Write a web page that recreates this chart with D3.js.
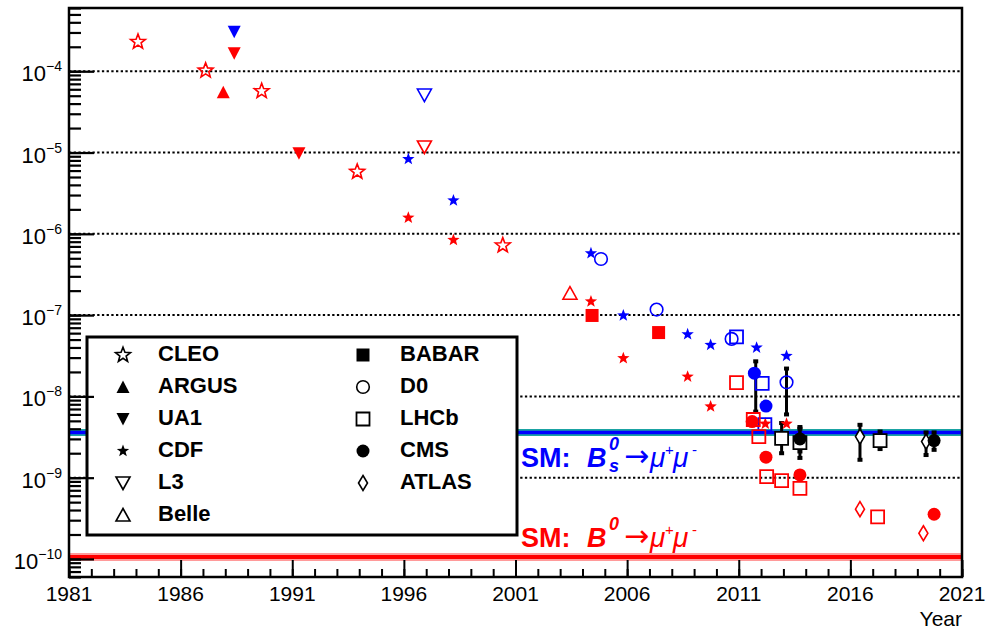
<!DOCTYPE html>
<html>
<head>
<meta charset="utf-8">
<script src="https://cdn.jsdelivr.net/npm/d3@7"></script>
<style>
  html, body { margin: 0; padding: 0; background: #fff; }
  svg { display: block; font-family: "Liberation Sans", Arial, Helvetica, sans-serif; }
</style>
</head>
<body>
<svg id="chart" width="989" height="629"></svg>
<script>
// ---- data: [year, branching fraction (or 90/95% CL limit), channel] ----
// channel: "B0" -> B0 -> mu mu (red), "Bs" -> Bs -> mu mu (blue)
const CLEO  = [[1984.09, 2.3e-4, "B0"], [1987.12, 1.02e-4, "B0"], [1989.63, 5.7e-5, "B0"],
               [1993.91, 5.8e-6, "B0"], [2000.43, 7.2e-7, "B0"]];
const ARGUS = [[1987.91, 5.5e-5, "B0"]];
const UA1   = [[1988.40, 3.07e-4, "Bs"], [1988.40, 1.66e-4, "B0"], [1991.30, 9.8e-6, "B0"]];
const CDF   = [[1996.20, 8.3e-6, "Bs"], [1996.20, 1.58e-6, "B0"], [1998.22, 2.57e-6, "Bs"],
               [1998.22, 8.4e-7, "B0"], [2004.38, 5.75e-7, "Bs"], [2004.38, 1.47e-7, "B0"],
               [2005.83, 9.9e-8, "Bs"], [2005.83, 2.95e-8, "B0"], [2008.71, 5.8e-8, "Bs"],
               [2008.71, 1.75e-8, "B0"], [2009.74, 4.3e-8, "Bs"], [2009.74, 7.5e-9, "B0"],
               [2011.80, 3.98e-8, "Bs"], [2012.19, 4.6e-9, "B0"], [2013.14, 3.15e-8, "Bs"],
               [2013.14, 4.6e-9, "B0"]];
const L3    = [[1996.92, 5.1e-5, "Bs"], [1996.92, 1.17e-5, "B0"]];
const Belle = [[2003.44, 1.86e-7, "B0"]];
const BABAR = [[2004.43, 9.9e-8, "B0"], [2007.41, 6.1e-8, "B0"]];
const D0    = [[2004.83, 4.9e-7, "Bs"], [2007.32, 1.17e-7, "Bs"], [2010.68, 5.1e-8, "Bs"],
               [2013.14, 1.49e-8, "Bs"]];
const LHCb  = [[2010.90, 5.4e-8, "Bs"], [2010.90, 1.48e-8, "B0"], [2012.05, 1.45e-8, "Bs"],
               [2012.17, 4.5e-9, "Bs"], [2011.65, 5.2e-9, "B0"], [2011.90, 3.2e-9, "B0"],
               [2012.25, 1.03e-9, "B0"], [2012.92, 9.2e-10, "B0"], [2013.74, 7.4e-10, "B0"],
               [2017.22, 3.3e-10, "B0"]];
const CMS   = [[2011.60, 4.9e-9, "B0"], [2011.70, 1.93e-8, "Bs"], [2012.22, 7.6e-9, "Bs"],
               [2012.22, 1.79e-9, "B0"], [2013.74, 1.08e-9, "B0"], [2019.75, 3.55e-10, "B0"]];
const ATLAS = [[2016.43, 4.1e-10, "B0"], [2019.27, 2.07e-10, "B0"]];

// Bs -> mu mu measurements with uncertainties: [experiment, year, value, low, high]
const measurements = [
  ["CDF",   2011.76, 1.8e-8,  6.5e-9, 2.7e-8],
  ["CDF",   2013.14, 1.3e-8,  6.0e-9, 2.2e-8],
  ["LHCb",  2012.92, 3.05e-9, 2.0e-9, 4.7e-9],
  ["LHCb",  2013.74, 2.7e-9,  1.75e-9, 4.0e-9],
  ["CMS",   2013.74, 3.0e-9,  2.1e-9, 4.2e-9],
  ["ATLAS", 2016.43, 3.2e-9,  1.66e-9, 4.47e-9],
  ["LHCb",  2017.33, 2.86e-9, 2.25e-9, 3.7e-9],
  ["ATLAS", 2019.39, 2.78e-9, 1.9e-9, 3.6e-9],
  ["CMS",   2019.75, 2.86e-9, 2.2e-9, 3.6e-9]
];

// Standard Model predictions
const smBs = 3.6e-9;
const smB0 = 1.06e-10;

const legendLeft  = ["CLEO", "ARGUS", "UA1", "CDF", "L3", "Belle"];
const legendRight = ["BABAR", "D0", "LHCb", "CMS", "ATLAS"];

const xMajorTicks = d3.range(1981, 2022, 5);
const xMinorTicks = d3.range(1981, 2022, 1);
const yDecades = [1e-10, 1e-9, 1e-8, 1e-7, 1e-6, 1e-5, 1e-4];
const yExponents = ["−10", "−9", "−8", "−7", "−6", "−5", "−4"];

// ---- layout ----
const svg = d3.select("#chart");
const L = 69, R = 962, T = 8, B = 577;
const x = d3.scaleLinear().domain([1981, 2021]).range([L, R]);
const y = d3.scaleLog().domain([6e-11, 6e-4]).range([B, T]);
const chColor = { B0: "#ff0000", Bs: "#0000ff", meas: "#000000" };

// marker shapes (ROOT-like), centred on (0,0)
function starPath(ro, ri) {
  const p = [];
  for (let i = 0; i < 10; i++) {
    const r = i % 2 ? ri : ro, a = -Math.PI / 2 + i * Math.PI / 5;
    p.push([r * Math.cos(a), r * Math.sin(a)]);
  }
  return "M" + p.map(d => d.join(",")).join("L") + "Z";
}
const shapes = {
  CLEO:  { d: starPath(7.8, 3.3), fill: false, sw: 1.6 },
  ARGUS: { d: "M0,-6.5L6.5,6L-6.5,6Z", fill: true },
  UA1:   { d: "M0,6.5L6.5,-6L-6.5,-6Z", fill: true },
  CDF:   { d: starPath(6.5, 2.7), fill: true },
  L3:    { d: "M0,6.5L7,-6L-7,-6Z", fill: false, sw: 1.6 },
  Belle: { d: "M0,-6.5L7,6L-7,6Z", fill: false, sw: 1.6 },
  BABAR: { d: "M-6.5,-6.5H6.5V6.5H-6.5Z", fill: true },
  D0:    { d: d3.symbol(d3.symbolCircle, Math.PI * 6.3 * 6.3)(), fill: false, sw: 1.6 },
  LHCb:  { d: "M-6.5,-6.5H6.5V6.5H-6.5Z", fill: false, sw: 1.8 },
  CMS:   { d: d3.symbol(d3.symbolCircle, Math.PI * 6.5 * 6.5)(), fill: true },
  ATLAS: { d: "M0,-7.5L4.5,0L0,7.5L-4.5,0Z", fill: false, sw: 1.6 }
};
function drawMarker(g, name, cx, cy, color, whiteFill) {
  const s = shapes[name];
  g.append("path").attr("d", s.d)
    .attr("transform", `translate(${cx},${cy})`)
    .attr("fill", s.fill ? color : (whiteFill ? "#fff" : "none"))
    .attr("stroke", s.fill ? "none" : color)
    .attr("stroke-width", s.sw || 0);
}

// ---- grid lines at each decade ----
svg.append("g").selectAll("line").data(yDecades).join("line")
  .attr("x1", L).attr("x2", R)
  .attr("y1", d => y(d)).attr("y2", d => y(d))
  .attr("stroke", "#000").attr("stroke-width", 2)
  .attr("stroke-dasharray", "2.3,2.4");

// ---- SM bands ----
svg.append("line").attr("x1", L).attr("x2", R).attr("y1", y(smBs)).attr("y2", y(smBs))
  .attr("stroke", "#1aa3a3").attr("stroke-width", 7);
svg.append("line").attr("x1", L).attr("x2", R).attr("y1", y(smBs)).attr("y2", y(smBs))
  .attr("stroke", "#0000ff").attr("stroke-width", 3.5);
svg.append("line").attr("x1", L).attr("x2", R).attr("y1", y(smB0)).attr("y2", y(smB0))
  .attr("stroke", "#ff9a9a").attr("stroke-width", 8);
svg.append("line").attr("x1", L).attr("x2", R).attr("y1", y(smB0)).attr("y2", y(smB0))
  .attr("stroke", "#ff0000").attr("stroke-width", 4);

// ---- SM labels ----
function smLabel(color, baseY, sub) {
  const g = svg.append("g").attr("fill", color);
  g.append("text").attr("x", 521).attr("y", baseY).attr("font-size", 27)
    .attr("font-weight", "bold").text("SM:");
  g.append("text").attr("x", 587).attr("y", baseY).attr("font-size", 27)
    .attr("font-weight", "bold").attr("font-style", "italic").text("B");
  g.append("text").attr("x", 609).attr("y", baseY - 17).attr("font-size", 18)
    .attr("font-weight", "bold").attr("font-style", "italic").text("0");
  if (sub) g.append("text").attr("x", 609).attr("y", baseY + 5).attr("font-size", 18)
    .attr("font-weight", "bold").attr("font-style", "italic").text(sub);
  g.append("text").attr("x", 624).attr("y", baseY - 1).attr("font-size", 30)
    .attr("font-family", "DejaVu Sans").text("→");
  g.append("text").attr("x", 650).attr("y", baseY).attr("font-size", 28)
    .attr("font-style", "italic").text("μ");
  g.append("text").attr("x", 665).attr("y", baseY - 12).attr("font-size", 15).text("+");
  g.append("text").attr("x", 673).attr("y", baseY).attr("font-size", 28)
    .attr("font-style", "italic").text("μ");
  g.append("text").attr("x", 692).attr("y", baseY - 12).attr("font-size", 15).text("-");
}
smLabel("#0000ff", 467, "s");
smLabel("#ff0000", 547, null);

// ---- error bars of measurements ----
const eg = svg.append("g");
measurements.forEach(([exp, yr, v, lo, hi]) => {
  const cx = x(yr);
  eg.append("line").attr("x1", cx).attr("x2", cx).attr("y1", y(hi)).attr("y2", y(lo))
    .attr("stroke", "#000").attr("stroke-width", 3);
  [hi, lo].forEach(e => eg.append("rect").attr("x", cx - 2.5).attr("y", y(e) - 2)
    .attr("width", 5).attr("height", 4).attr("fill", "#000"));
});
// markers of measurements (CDF points are shown as bars only)
measurements.filter(m => m[0] !== "CDF").forEach(([exp, yr, v]) =>
  drawMarker(eg, exp, x(yr), y(v), "#000", true));

// ---- limits ----
const pg = svg.append("g");
const allSets = { CLEO, ARGUS, UA1, L3, Belle, BABAR, CDF, D0, LHCb, CMS, ATLAS };
Object.entries(allSets).forEach(([name, arr]) =>
  arr.forEach(([yr, v, ch]) => drawMarker(pg, name, x(yr), y(v), chColor[ch], false)));

// ---- legend ----
const lg = svg.append("g");
lg.append("rect").attr("x", 87).attr("y", 337).attr("width", 430).attr("height", 198)
  .attr("fill", "#fff").attr("stroke", "#000").attr("stroke-width", 3);
legendLeft.forEach((n, i) => {
  const cy = 353 + i * 32;
  drawMarker(lg, n, 123, cy + 2, "#000", false);
  lg.append("text").attr("x", 158).attr("y", cy + 8).attr("font-size", 22)
    .attr("font-weight", "bold").text(n);
});
legendRight.forEach((n, i) => {
  const cy = 353 + i * 32;
  drawMarker(lg, n, 363, cy + 2, "#000", false);
  lg.append("text").attr("x", 400).attr("y", cy + 8).attr("font-size", 22)
    .attr("font-weight", "bold").text(n);
});

// ---- axes (ticks pointing into the frame) ----
function tickAxis(gen, transform, width) {
  const g = svg.append("g").attr("transform", transform).call(gen);
  g.select(".domain").remove();
  g.selectAll(".tick line").attr("stroke", "#000").attr("stroke-width", width);
  g.selectAll(".tick text").remove();
  return g;
}
// x: minor every year, major every five years
tickAxis(d3.axisTop(x).tickValues(xMinorTicks).tickSize(8).tickFormat(""), `translate(0,${B})`, 2);
tickAxis(d3.axisTop(x).tickValues(xMajorTicks).tickSize(17).tickFormat(""), `translate(0,${B})`, 2);
// y: log sub-ticks and decade ticks
const yAll = y.ticks(10);
tickAxis(d3.axisRight(y).tickValues(yAll).tickSize(12).tickFormat(""), `translate(${L},0)`, 2.2);
tickAxis(d3.axisRight(y).tickValues(yDecades).tickSize(25).tickFormat(""), `translate(${L},0)`, 2.2);

// frame
svg.append("rect").attr("x", L).attr("y", T).attr("width", R - L).attr("height", B - T)
  .attr("fill", "none").attr("stroke", "#000").attr("stroke-width", 2.5);

// tick labels
svg.append("g").selectAll("text").data(xMajorTicks).join("text")
  .attr("x", d => x(d)).attr("y", 601).attr("text-anchor", "middle")
  .attr("font-size", 21).text(d => d);
const yl = svg.append("g").selectAll("text").data(yDecades).join("text")
  .attr("x", 62).attr("y", d => y(d) + 10).attr("text-anchor", "end").attr("font-size", 22);
yl.append("tspan").text("10");
yl.append("tspan").attr("dy", -10).attr("font-size", 14).text((d, i) => yExponents[i]);

svg.append("text").attr("x", 962).attr("y", 626).attr("text-anchor", "end")
  .attr("font-size", 21).text("Year");
</script>
</body>
</html>
